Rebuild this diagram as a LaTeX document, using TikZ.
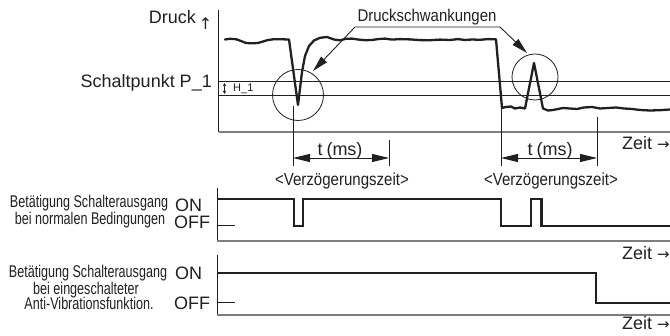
\documentclass[tikz,border=0pt]{standalone}
\usepackage{fontspec}
\setmainfont{Liberation Sans}
\newfontfamily\condA[FakeStretch=0.88]{Liberation Sans}
\newfontfamily\condB[FakeStretch=0.74]{Liberation Sans}
\newfontfamily\condC[FakeStretch=0.86]{Liberation Sans}
\newfontfamily\arrfont{DejaVu Sans}
\usetikzlibrary{arrows.meta}
\definecolor{ink}{RGB}{35,31,32}
\definecolor{axgray}{RGB}{125,125,125}
\newcommand{\rarr}{{\arrfont\fontsize{15}{15}\selectfont →}}
\begin{document}
\begin{tikzpicture}[x=1pt,y=-1pt,
  txt/.style={inner sep=0pt, text=ink},
  big/.style={txt, font=\fontsize{18}{18}\selectfont},
  cond/.style={txt, font=\condC\fontsize{17.5}{17.5}\selectfont},
  lab/.style={txt, font=\condB\fontsize{17}{17}\selectfont, anchor=base},
  axis/.style={draw=ink, line width=1pt},
  gline/.style={draw=axgray, line width=1.4pt},
  thr/.style={draw=ink, line width=0.9pt},
  vmark/.style={draw=ink, line width=0.8pt},
  curve/.style={draw=ink, line width=2.3pt, line join=round, line cap=round},
  sig/.style={draw=ink, line width=2.4pt, line join=miter},
  dim/.style={draw=ink, line width=0.9pt, {Triangle[length=17pt,width=8pt]}-{Triangle[length=17pt,width=8pt]}},
  ptr/.style={draw=ink, line width=0.9pt, line join=round, {Triangle[length=16pt,width=8pt]}-{Triangle[length=16pt,width=8pt]}},
  ring/.style={circle, draw=ink, line width=0.8pt, inner sep=0pt}
]
\useasboundingbox (0,0) rectangle (670,336);

% ---------- top chart ----------
\coordinate (ytop) at (218.5,10);
\coordinate (orig) at (218.5,132);
\coordinate (xend) at (670,132);
\draw[axis] (ytop) -- (orig);
\draw[gline] (orig) -- (xend);
\draw[thr] (218.5,81) -- (670,81);
\draw[thr] (218.5,95.5) -- (670,95.5);

\node[big, anchor=base east] (druck) at (196,24) {Druck};
\node[txt, font=\arrfont\fontsize{16}{16}\selectfont, anchor=base] (druckarr) at (205.5,29.5) {↑};
\node[big, anchor=base east] (sp) at (212,88) {Schaltpunkt P\_1};

\coordinate (h1a) at (224.5,83);
\coordinate (h1b) at (224.5,94);
\draw[line width=0.7pt, draw=ink, {Triangle[length=3pt,width=3pt]}-{Triangle[length=3pt,width=3pt]}] (h1a) -- (h1b);
\node[txt, font=\fontsize{11}{11}\selectfont, anchor=base west] (h1) at (233,92) {H\_1};

% pressure curve
\draw[curve] (225,39.5) -- (230,38.8) -- (236,39.2) -- (241,41) -- (246,43) -- (252,43.3) -- (258,43) -- (263,41.5) -- (268,40) -- (274,39.2) -- (282,39.3) -- (289,39.5)
  -- (298,105) -- (302,72) -- (305,56) -- (309,46) -- (314,40.5) -- (320,37.8) -- (327,37) -- (334,39.5) -- (340,40.3) -- (346,38.8) -- (352,38.6) -- (358,39.5)
  -- (365,40.2) -- (372,40) -- (378,39.1) -- (385,38.6) -- (392,39.6) -- (400,39.1) -- (410,39.4) -- (420,40.1) -- (430,40.2) -- (440,39.6) -- (450,40) -- (458,39.1) -- (465,40) -- (472,39.5) -- (480,39.8) -- (488,39.1) -- (496,39.3)
  -- (502,108) -- (506,107) -- (511,106.5) -- (515,108.5) -- (520,107.5) -- (525,108.5)
  -- (534,63) -- (543,108.5)
  -- (548,110.5) -- (553,110) -- (558,109) -- (563,108) -- (570,108.5) -- (577,109) -- (584,107.5) -- (592,107) -- (600,108.5) -- (608,108) -- (616,107.5) -- (624,108.5) -- (632,109) -- (640,110) -- (650,110.5) -- (660,110.2) -- (670,109.5);

% circles
\node[ring, minimum size=51pt] (c1) at (298,95) {};
\node[ring, minimum size=46pt] (c2) at (535,77) {};

% Druckschwankungen pointer
\node[txt, font=\condA\fontsize{17}{17}\selectfont, anchor=base] (ds) at (427,22) {Druckschwankungen};
\coordinate (dsL) at (355,27);
\coordinate (dsR) at (500,27);
\coordinate (tip1) at (313,71);
\coordinate (tip2) at (527,53);
\draw[ptr] (tip1) -- (dsL) -- (dsR) -- (tip2);

% delay markers
\coordinate (m1t) at (293,106); \coordinate (m1b) at (293,166);
\coordinate (m2t) at (389,140); \coordinate (m2b) at (389,166);
\coordinate (m3t) at (501,108); \coordinate (m3b) at (501,166);
\coordinate (m4t) at (597,117); \coordinate (m4b) at (597,166);
\draw[vmark] (m1t) -- (m1b);
\draw[vmark] (m2t) -- (m2b);
\draw[vmark] (m3t) -- (m3b);
\draw[vmark] (m4t) -- (m4b);
\coordinate (d1a) at (293,158); \coordinate (d1b) at (389,158);
\coordinate (d2a) at (501,158); \coordinate (d2b) at (597,158);
\draw[dim] (d1a) -- (d1b);
\draw[dim] (d2a) -- (d2b);
\node[big, anchor=base] (t1) at (340,156) {t\hspace{4pt}(ms)};
\node[big, anchor=base] (t2) at (550,156) {t\hspace{4pt}(ms)};
\node[cond, anchor=base] (v1) at (342,186) {<Verzögerungszeit>};
\node[cond, anchor=base] (v2) at (551,186) {<Verzögerungszeit>};
\node[big, anchor=base east] (z1) at (670,150) {Zeit \rarr};

% ---------- chart 2 ----------
\coordinate (a2t) at (217,188);
\coordinate (a2o) at (217,241);
\draw[axis] (a2t) -- (a2o);
\draw[gline] (a2o) -- (670,241);
\draw[axis] (217,226) -- (235,226);
\draw[sig] (217,199) -- (294,199) -- (294,226) -- (303,226) -- (303,199) -- (501,199) -- (501,226) -- (531,226) -- (531,199) -- (541.5,199) -- (541.5,226) -- (670,226);
\node[big, anchor=base west] (on2) at (175,212) {ON};
\node[big, anchor=base west] (off2) at (174,228.5) {OFF};
\node[lab] (l2a) at (89,207.5) {Betätigung Schalterausgang};
\node[lab] (l2b) at (90,224.2) {bei normalen Bedingungen};
\node[big, anchor=base east] (z2) at (670,260) {Zeit \rarr};

% ---------- chart 3 ----------
\coordinate (a3t) at (217,255);
\coordinate (a3o) at (217,315);
\draw[axis] (a3t) -- (a3o);
\draw[gline] (a3o) -- (670,315);
\draw[axis] (217,302.5) -- (235,302.5);
\draw[sig] (217,273) -- (596,273) -- (596,303) -- (670,303);
\node[big, anchor=base west] (on3) at (175,280) {ON};
\node[big, anchor=base west] (off3) at (174,310) {OFF};
\node[lab] (l3a) at (88,277.7) {Betätigung Schalterausgang};
\node[lab] (l3b) at (86,294.3) {bei eingeschalteter};
\node[lab] (l3c) at (89,310) {Anti-Vibrationsfunktion.};
\node[big, anchor=base east] (z3) at (670,329.5) {Zeit \rarr};
\end{tikzpicture}
\end{document}
